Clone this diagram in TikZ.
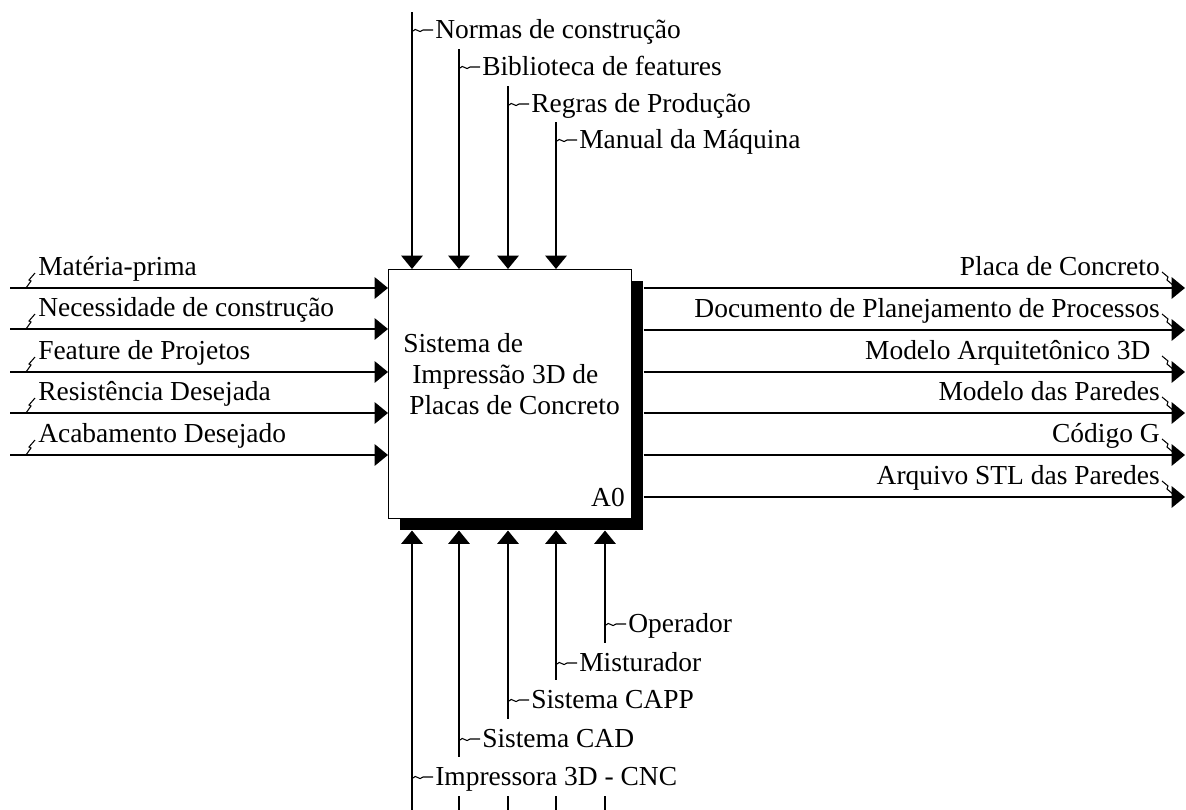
\documentclass[tikz,border=0pt]{standalone}
\usepackage{fontspec}
\setmainfont{Liberation Serif}
\usetikzlibrary{arrows.meta}
\begin{document}
\begin{tikzpicture}[x=0.75pt,y=-0.75pt,
  flow/.style={line width=1.4pt,-{Triangle[length=10pt,width=16pt]}},
  lbl/.style={inner sep=0pt,font=\fontsize{20.6}{24}\selectfont},
  mlbl/.style={lbl,fill=white,anchor=base west,text height=21pt,text depth=8.5pt},
  sq/.style={line width=0.8pt},
  actbox/.style={draw,line width=1.1pt,fill=white,minimum width=182.25pt,minimum height=186.75pt,anchor=north west,inner sep=0pt},
  shade/.style={fill=black,minimum width=182.25pt,minimum height=186.75pt,anchor=north west,inner sep=0pt}
]
\useasboundingbox (0,0) rectangle (1186,810);

% activity box with its drop shadow
\node (shadow) [shade] at (400,281) {};
\node (box) [actbox] at (388,269) {};
\node (t1) [lbl,anchor=base west] at (403,352) {Sistema de};
\node (t2) [lbl,anchor=base west] at (412,383) {Impressão 3D de};
\node (t3) [lbl,anchor=base west] at (409,414) {Placas de Concreto};
\node (a0) [lbl,anchor=base east] at (625,506) {A0};

% inputs
\foreach \y/\n/\t in {288/1/Matéria-prima, 329/2/Necessidade de construção, 372/3/Feature de Projetos, 413/4/Resistência Desejada, 455/5/Acabamento Desejado}{
  \coordinate (in\n) at (10,\y);
  \draw[flow] (in\n) -- (box.west |- in\n);
  \node (inl\n) [lbl,anchor=base west] at (38,\y-13) {\t};
  \draw[sq] (26,\y) -- ++(5,-7) -- ++(-2,-1) -- ++(6,-7);
}

% outputs
\foreach \y/\n/\t in {288/1/Placa de Concreto, 330/2/Documento de Planejamento de Processos, 372/3/{Modelo Arquitetônico 3D\hspace*{7pt}}, 413/4/Modelo das Paredes, 455/5/Código G, 497/6/Arquivo STL das Paredes}{
  \coordinate (out\n) at (1185,\y);
  \draw[flow] (shadow.east |- out\n) -- (out\n);
  \node (outl\n) [lbl,anchor=base east] at (1160,\y-13) {\t};
  \draw[sq] (1162,\y-16) -- ++(6,5) -- ++(-1,3) -- ++(7,6);
}

% controls
\foreach \x/\b/\n/\t in {412/38/1/Normas de construção, 459/75/2/Biblioteca de features, 508/112/3/Regras de Produção, 556/148/4/Manual da Máquina}{
  \coordinate (ct\n) at (\x,\b-26);
  \draw[flow] (ct\n) -- (ct\n |- box.north);
  \node (ctl\n) [lbl,anchor=base west] at (\x+23,\b) {\t};
  \draw[sq] (\x+1,\b-7) .. controls (\x+4,\b-12) and (\x+7,\b-3) .. (\x+11,\b-8) -- (\x+21,\b-8);
}

% mechanisms
\foreach \x/\n in {412/1, 459/2, 508/3, 556/4, 605/5}{
  \coordinate (mc\n) at (\x,810);
  \draw[flow] (mc\n) -- (mc\n |- shadow.south);
}
\foreach \x/\b/\n/\t in {412/785/1/Impressora 3D - CNC, 459/747/2/Sistema CAD, 508/708/3/Sistema CAPP, 556/671/4/Misturador, 605/632/5/Operador}{
  \node (mcl\n) [mlbl] at (\x+2,\b) {\hspace*{15.75pt}\t};
  \draw[sq] (\x+1,\b-7) .. controls (\x+4,\b-12) and (\x+7,\b-3) .. (\x+11,\b-8) -- (\x+21,\b-8);
}
\end{tikzpicture}
\end{document}
